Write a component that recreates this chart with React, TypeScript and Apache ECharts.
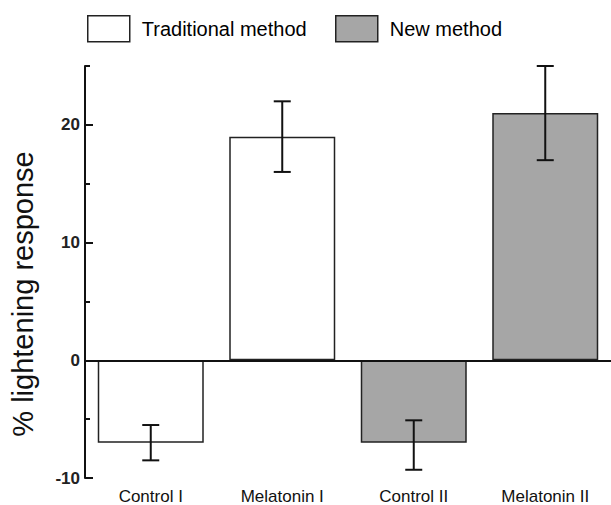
import React, { useEffect, useRef } from "react";
import * as echarts from "echarts";

const categories = ["Control I", "Melatonin I", "Control II", "Melatonin II"];
const traditionalValues = [-7, 19, null, null];
const newValues = [null, null, -7, 21];
const errorLow = [-8.5, 16, -9.3, 17];
const errorHigh = [-5.5, 22, -5.1, 25];
const majorTicks = [-10, 0, 10, 20];
const minorTicks = [-5, 5, 15, 25];
const seriesNames = ["Traditional method", "New method"];
const yTitle = "% lightening response";

const FONT = "'Liberation Sans', Arial, Helvetica, sans-serif";
const GREY = "#a6a6a6";

export default function App() {
  const ref = useRef<HTMLDivElement>(null);
  useEffect(() => {
    if (!ref.current) return;
    const chart = echarts.init(ref.current, undefined, { renderer: "svg" });
    const legendText = { fontSize: 20, fontFamily: FONT, color: "#000", padding: [0, 0, 0, 7] };
    const option: any = {
      animation: false,
      backgroundColor: "#fff",
      textStyle: { fontFamily: FONT, color: "#000" },
      grid: { left: 85, right: 0, top: 66, bottom: 24, containLabel: false },
      legend: [
        {
          data: [seriesNames[0]],
          left: 87,
          top: 15,
          padding: 0,
          itemWidth: 42,
          itemHeight: 26,
          icon: "rect",
          textStyle: legendText,
          itemStyle: { color: "#fff", borderColor: "#222", borderWidth: 1.5 },
          selectedMode: false,
        },
        {
          data: [seriesNames[1]],
          left: 335,
          top: 15,
          padding: 0,
          itemWidth: 42,
          itemHeight: 26,
          icon: "rect",
          textStyle: legendText,
          itemStyle: { color: GREY, borderColor: "#222", borderWidth: 1.5 },
          selectedMode: false,
        },
      ],
      xAxis: {
        type: "category",
        data: categories,
        axisLine: { show: false, onZero: false },
        axisTick: { show: false },
        axisLabel: { fontSize: 17, color: "#111", fontFamily: FONT, margin: 10 },
        splitLine: { show: false },
      },
      yAxis: [
        {
          type: "value",
          min: -10,
          max: 25,
          interval: 10,
          position: "left",
          offset: 0,
          axisLine: { show: true, lineStyle: { color: "#111", width: 2 } },
          axisTick: {
            show: true,
            inside: true,
            length: 8,
            customValues: majorTicks,
            lineStyle: { color: "#111", width: 2 },
          },
          axisLabel: {
            customValues: majorTicks,
            fontSize: 17,
            fontWeight: "bold",
            color: "#222",
            margin: 5,
            fontFamily: FONT,
          },
          splitLine: { show: false },
        },
        {
          type: "value",
          min: -10,
          max: 25,
          interval: 5,
          position: "left",
          offset: 0,
          axisLine: { show: false },
          axisTick: {
            show: true,
            inside: true,
            length: 5,
            customValues: minorTicks,
            lineStyle: { color: "#111", width: 2 },
          },
          axisLabel: { show: false },
          splitLine: { show: false },
        },
      ],
      graphic: [
        {
          type: "text",
          x: 23,
          y: 294,
          rotation: Math.PI / 2,
          style: {
            text: yTitle,
            font: `29px ${FONT}`,
            fill: "#111",
            textAlign: "center",
            textVerticalAlign: "middle",
          },
        },
      ],
      series: [
        {
          name: seriesNames[0],
          type: "bar",
          yAxisIndex: 0,
          data: traditionalValues,
          barWidth: 106,
          barGap: "-100%",
          itemStyle: { color: "#fff", borderColor: "#222", borderWidth: 1.5 },
          markLine: {
            silent: true,
            symbol: ["none", "none"],
            label: { show: false },
            lineStyle: { color: "#111", type: "solid", width: 2 },
            data: [{ yAxis: 0 }],
          },
          z: 2,
        },
        {
          name: seriesNames[1],
          type: "bar",
          yAxisIndex: 0,
          data: newValues,
          barWidth: 106,
          barGap: "-100%",
          itemStyle: { color: GREY, borderColor: "#222", borderWidth: 1.5 },
          z: 2,
        },
        {
          type: "custom",
          name: "error",
          yAxisIndex: 0,
          data: errorLow.map((lo, i) => [i, lo, errorHigh[i]]),
          encode: { x: 0, y: [1, 2] },
          z: 10,
          renderItem: (_params: any, api: any) => {
            const idx = api.value(0);
            const lo = api.coord([idx, api.value(1)]);
            const hi = api.coord([idx, api.value(2)]);
            const hw = 8.5;
            const st = { stroke: "#111", lineWidth: 2 };
            return {
              type: "group",
              children: [
                { type: "line", shape: { x1: hi[0], y1: hi[1], x2: lo[0], y2: lo[1] }, style: st },
                { type: "line", shape: { x1: hi[0] - hw, y1: hi[1], x2: hi[0] + hw, y2: hi[1] }, style: st },
                { type: "line", shape: { x1: lo[0] - hw, y1: lo[1], x2: lo[0] + hw, y2: lo[1] }, style: st },
              ],
            };
          },
        },
      ],
    };
    chart.setOption(option);
    return () => chart.dispose();
  }, []);
  return (
    <div
      ref={ref}
      style={{ position: "absolute", left: 0, top: 0, width: 611, height: 505, background: "#fff" }}
    />
  );
}
